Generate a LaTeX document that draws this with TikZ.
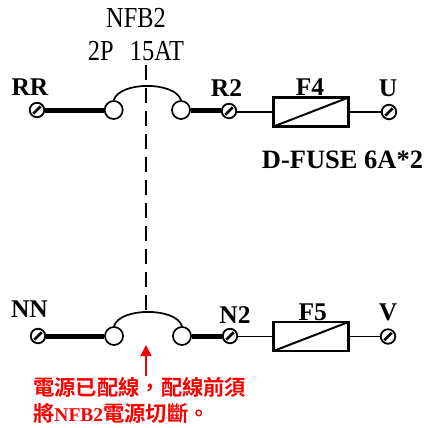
\documentclass[tikz,border=0pt]{standalone}
\usepackage{fontspec}
\setmainfont{Liberation Serif}
\newfontfamily\cjk{Noto Sans CJK TC}[BoldFont={Noto Sans CJK TC Bold}]
\usetikzlibrary{arrows.meta}
\definecolor{warnred}{RGB}{250,0,0}
\tikzset{
  terminal/.style={circle,draw=black,fill=white,line width=1.8pt,minimum size=14.5pt,inner sep=0pt,
    path picture={\draw[line width=2.5pt] (path picture bounding box.south west)++(3.6pt,3.6pt) -- ([xshift=-3.6pt,yshift=-3.6pt]path picture bounding box.north east);}},
  contact/.style={circle,draw=black,fill=white,line width=1.7pt,minimum size=18pt,inner sep=0pt},
  fuse/.style={rectangle,draw=black,line width=2.1pt,minimum width=75pt,minimum height=29pt,inner sep=0pt,
    path picture={\draw[line width=2pt] (path picture bounding box.south west) -- (path picture bounding box.north east);}},
  thickw/.style={line width=5pt},
  thinw/.style={line width=1.8pt},
  bridge/.style={line width=1.7pt},
  lbl/.style={anchor=base,inner sep=0pt,xscale=.84,font=\fontsize{29}{29}\selectfont},
  blbl/.style={anchor=base,inner sep=0pt,font=\fontsize{25.5}{25.5}\selectfont\bfseries},
  redlbl/.style={anchor=base west,inner sep=0pt,text=warnred,font=\fontsize{21.3}{21.3}\selectfont\bfseries},
}
\begin{document}
\begin{tikzpicture}[x=1pt,y=-1pt]
\useasboundingbox (0,0) rectangle (427,428);
% dashed linkage
\coordinate (dtop) at (146,65);
\coordinate (dbot) at (146,312);
\draw[line width=1.6pt,dash pattern=on 15pt off 8pt] (dtop) -- (dbot);
% top row
\node[terminal] (rr) at (37,110) {};
\node[contact] (c1) at (113.7,110) {};
\node[contact] (c2) at (181,110) {};
\node[terminal] (r2) at (229,111) {};
\node[fuse] (f4) at (311,112) {};
\node[terminal] (u) at (389,112) {};
\draw[thickw] (rr) -- (c1);
\draw[thickw] (c2) -- (c2 -| r2.west);
\draw[thinw] (f4.west -| r2.east) -- (f4.west);
\draw[thinw] (f4.east) -- (u);
\draw[bridge] (c1.north) .. controls +(6,-19) and +(-6,-19) .. (c2.north);
% bottom row
\node[terminal] (nn) at (38,336) {};
\node[contact] (c3) at (114,336) {};
\node[contact] (c4) at (182,336) {};
\node[terminal] (n2) at (230,336) {};
\node[fuse] (f5) at (311,336.5) {};
\node[terminal] (v) at (388,336.5) {};
\draw[thickw] (nn) -- (c3);
\draw[thickw] (c4) -- (n2);
\draw[thinw] (f5.west -| n2.east) -- (f5.west);
\draw[thinw] (f5.east) -- (v);
\draw[bridge] (c3.north) .. controls +(6,-19) and +(-6,-19) .. (c4.north);
% labels
\node[lbl] (t1) at (136,28) {NFB2};
\node[lbl] (t2) at (136,60) {2P\ \ \,15AT};
\node[blbl] (t3) at (30,95) {RR};
\node[blbl] (t4) at (226.5,96) {R2};
\node[blbl] (t5) at (310,95) {F4};
\node[blbl] (t6) at (388,96) {U};
\node[blbl,font=\fontsize{26.5}{26.5}\selectfont\bfseries] (t7) at (342.5,168) {D-FUSE 6A*2};
\node[blbl] (t8) at (29.5,317) {NN};
\node[blbl] (t9) at (235,323) {N2};
\node[blbl] (t10) at (312.7,320) {F5};
\node[blbl] (t11) at (388,320) {V};
% warning
\node[redlbl] (w1) at (33,395) {\cjk 電源已配線，配線前須};
\node[redlbl] (w2) at (33,421) {{\cjk 將}{\fontsize{19.5}{19.5}\selectfont NFB2}{\cjk 電源切斷。}};
\coordinate (atip) at (146,345);
\coordinate (atail) at (146,376);
\draw[warnred,line width=1.6pt,-{Triangle[length=11pt,width=11pt]}] (atail) -- (atip);
\end{tikzpicture}
\end{document}
